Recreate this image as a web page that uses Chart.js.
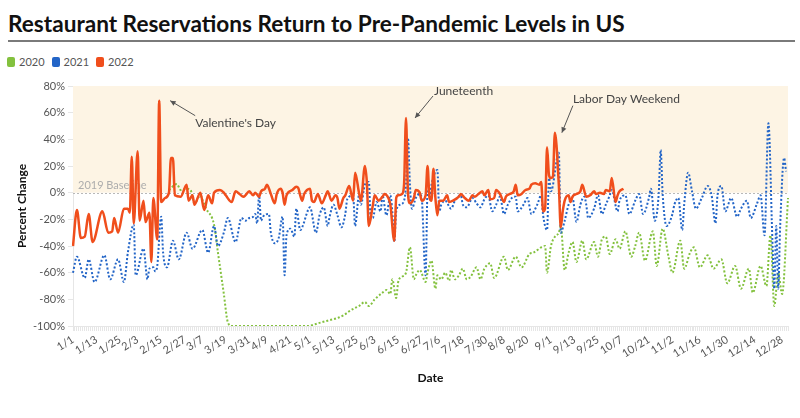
<!DOCTYPE html>
<html>
<head>
<meta charset="utf-8">
<script src="https://cdn.jsdelivr.net/npm/chart.js@4.4.0/dist/chart.umd.min.js"></script>
<style>
    html, body { margin: 0; padding: 0; background: #fff; }
    body { width: 800px; height: 418px; position: relative; overflow: hidden; font-family: Lato, "Noto Sans", sans-serif; }
    #titulo { position: absolute; left: 8px; top: 11px; font-size: 22.6px; font-weight: 700; color: #111; line-height: 26px; white-space: nowrap; }
    #regua { position: absolute; left: 8px; top: 40px; width: 787px; height: 2px; background: #7a7a7a; }
    #legenda { position: absolute; left: 7px; top: 55px; font-size: 11px; color: #555; display: flex; line-height: 13px; }
    .item { display: flex; align-items: center; margin-right: 7px; }
    .cor { width: 8px; height: 10px; border-radius: 2px; margin-right: 4px; }
    #grafico { position: absolute; left: 0; top: 70px; }
</style>
</head>
<body>
<div id="titulo">Restaurant Reservations Return to Pre-Pandemic Levels in US</div>
<div id="regua"></div>
<div id="legenda"></div>
<canvas id="grafico" width="800" height="320"></canvas>
<script>
// categorias: um rótulo por dia (ano bissexto, como 2020)
const diasPorMes = [31, 29, 31, 30, 31, 30, 31, 31, 30, 31, 30, 31];
const dias = [];
diasPorMes.forEach((n, m) => {
    for (let d = 1; d <= n; d++) dias.push(`${m + 1}/${d}`);
});

const tickLabels = ["1/1", "1/13", "1/25", "2/3", "2/15", "2/27", "3/7", "3/19", "3/31", "4/9", "4/21", "5/1",
    "5/13", "5/25", "6/3", "6/15", "6/27", "7/6", "7/18", "7/30", "8/8", "8/20", "9/1", "9/13", "9/25",
    "10/7", "10/21", "11/2", "11/16", "11/30", "12/14", "12/28"];

const seriesNames = ["2020", "2021", "2022"];
const seriesColors = ["#83c13e", "#2365c7", "#f04e1c"];

// 2020 (verde)
const dates2020 = [
    "2/19", "2/23", "2/25", "2/28",
    "3/1", "3/3", "3/6", "3/7", "3/9", "3/13", "3/15", "3/18", "3/20", "3/22",
    "4/30",
    "5/5", "5/10", "5/15", "5/18", "5/22", "5/26", "5/29", "5/31",
    "6/3", "6/7", "6/9", "6/11", "6/12", "6/14", "6/15", "6/17", "6/19", "6/21", "6/23", "6/24", "6/26", "6/29", "6/30",
    "7/2", "7/4", "7/5", "7/7", "7/9", "7/11", "7/12", "7/14", "7/16", "7/18", "7/20", "7/22", "7/25", "7/27", "7/29",
    "8/1", "8/3", "8/8", "8/10", "8/14", "8/17", "8/21", "8/23", "8/26", "8/27", "8/29", "8/30",
    "9/1", "9/3", "9/5", "9/6", "9/8", "9/10", "9/12", "9/14", "9/17", "9/19", "9/23", "9/25", "9/27", "9/29",
    "10/1", "10/4", "10/6", "10/9", "10/12", "10/14", "10/16", "10/19", "10/23", "10/25", "10/28", "10/31",
    "11/2", "11/6", "11/8", "11/11", "11/13", "11/16", "11/20", "11/23", "11/27", "11/30",
    "12/4", "12/7", "12/11", "12/13", "12/17", "12/20", "12/22", "12/24", "12/26", "12/28", "12/31"
];
const values2020 = [
    2, 6.5, 2, 3,
    2, -8, -2, -5, -12, -24, -45, -76, -97, -100,
    -100,
    -98, -96, -94, -92, -88, -85, -82, -85,
    -80, -75, -73, -76, -65, -79, -67, -63, -60, -41, -65, -62, -58, -67, -60,
    -51, -72, -62, -65, -60, -66, -58, -65, -62, -57, -65, -63, -56, -65, -57,
    -53, -64, -48, -58, -48, -56, -46, -45, -42, -41, -40, -60,
    -40, -33, -30, -25, -58, -45, -37, -52, -36, -50, -37, -48, -35, -33,
    -46, -35, -42, -29, -48, -40, -30, -51, -29, -55, -27, -48,
    -60, -36, -57, -45, -41, -56, -47, -57, -50, -68,
    -55, -72, -57, -75, -55, -70, -32, -85, -60, -76, -4
];

// 2021 (azul)
const dates2021 = [
    "1/1", "1/3", "1/7", "1/9", "1/12", "1/17", "1/20", "1/24", "1/27", "1/29",
    "2/1", "2/2", "2/6", "2/8", "2/9", "2/11", "2/12", "2/13", "2/15", "2/16", "2/18", "2/21", "2/24", "2/28",
    "3/2", "3/7", "3/10", "3/13", "3/15", "3/18", "3/20", "3/24", "3/27", "3/29", "3/31",
    "4/2", "4/3", "4/4", "4/5", "4/6", "4/7", "4/10", "4/11", "4/13", "4/15", "4/17", "4/18", "4/19", "4/21", "4/23", "4/24", "4/26", "4/28", "4/29",
    "5/1", "5/4", "5/6", "5/8", "5/10", "5/11", "5/13", "5/15", "5/17", "5/19", "5/20", "5/23", "5/24", "5/26", "5/27", "5/29", "5/31",
    "6/1", "6/2", "6/4", "6/6", "6/7", "6/9", "6/11", "6/12", "6/13", "6/14", "6/16", "6/18", "6/19", "6/20", "6/21", "6/22", "6/24", "6/26", "6/27", "6/29", "6/30",
    "7/1", "7/2", "7/5", "7/6", "7/7", "7/9", "7/12", "7/14", "7/17", "7/18", "7/20", "7/23", "7/25", "7/27", "7/29", "7/31",
    "8/2", "8/4", "8/6", "8/8", "8/10", "8/12", "8/14", "8/15", "8/18", "8/20", "8/22", "8/25", "8/27", "8/28", "8/30", "8/31",
    "9/1", "9/5", "9/6", "9/8", "9/10", "9/12", "9/14", "9/16", "9/18", "9/19", "9/20", "9/23", "9/25", "9/27", "9/29",
    "10/1", "10/2", "10/5", "10/6", "10/9", "10/11", "10/14", "10/16", "10/18", "10/21", "10/22", "10/24", "10/26", "10/27", "10/28", "10/30",
    "11/2", "11/3", "11/5", "11/7", "11/8", "11/10", "11/12", "11/14", "11/17", "11/20", "11/22", "11/24", "11/25", "11/27", "11/29",
    "12/2", "12/5", "12/7", "12/10", "12/12", "12/15", "12/17", "12/19", "12/21", "12/23", "12/24", "12/25", "12/26", "12/27", "12/29", "12/30"
];
const values2021 = [
    -60, -48, -64, -50, -67, -47, -65, -50, -67, -45,
    -24, -62, -42, -65, -57, -56, -59, -55, -18, -45, -56, -36, -50, -30,
    -42, -28, -45, -25, -40, -30, -19, -37, -19, -21, -19,
    -18, -16, -23, -2, -21, -18, -16, -30, -38, -34, -18, -62, -32, -27, -33, -12, -28, -22, -17,
    -11, -30, -16, -11, -25, -18, -9, -17, -26, -16, -5, -2, -25, -2, -9, 6, 8,
    -19, -19, -7, -14, -2, -17, -2, -14, -37, -14, -9, -6, 6, 41, 6, -12, -4, -1, -4, -62, 1,
    -4, 6, 17, -14, -9, -6, -12, -6, -2, -9, -11, -4, -8, -11, -5, -2,
    -14, -9, -3, -16, -9, -4, -3, -14, -9, -4, -16, -9, -2, -17, -28, 11,
    1, 30, -30, -21, -9, -4, -22, -9, -3, -9, -19, -12, -2, -16, -9,
    -2, 2, -14, -6, -2, -16, -6, -1, -16, -4, 3, -21, -1, 32, -1, -25,
    -16, -9, -4, -28, -9, 15, 1, -12, -4, 5, -2, -23, -2, 5, -14,
    -4, -18, -12, -6, -19, -9, -2, -32, 52, -34, -72, -25, -72, -25, 26, 16
];

// 2022 (laranja)
const dates2022 = [
    "1/1", "1/3", "1/5", "1/7", "1/9", "1/11", "1/16", "1/19", "1/21", "1/22", "1/24", "1/27", "1/29", "1/30", "1/31",
    "2/1", "2/3", "2/4", "2/6", "2/7", "2/9", "2/10", "2/11", "2/13", "2/14", "2/15", "2/17", "2/19", "2/20", "2/21", "2/22", "2/25", "2/28", "2/29",
    "3/2", "3/3", "3/6", "3/8", "3/10", "3/12", "3/13", "3/16", "3/18", "3/19", "3/22", "3/24", "3/26", "3/28", "3/29", "3/31",
    "4/2", "4/3", "4/5", "4/6", "4/8", "4/9", "4/11", "4/13", "4/14", "4/16", "4/17", "4/18", "4/19", "4/22", "4/24", "4/25", "4/26", "4/27", "4/28",
    "5/1", "5/2", "5/3", "5/5", "5/7", "5/9", "5/10", "5/12", "5/14", "5/15", "5/16", "5/18", "5/19", "5/21", "5/23", "5/24", "5/26", "5/27", "5/29", "5/30", "5/31",
    "6/2", "6/3", "6/5", "6/7", "6/8", "6/10", "6/11", "6/13", "6/14", "6/15", "6/17", "6/18", "6/19", "6/20", "6/21", "6/23", "6/24", "6/26", "6/27", "6/29", "6/30",
    "7/1", "7/2", "7/3", "7/4", "7/5", "7/6", "7/8", "7/10", "7/11", "7/13", "7/16", "7/17", "7/19", "7/21", "7/23", "7/24", "7/26", "7/28", "7/29", "7/31",
    "8/1", "8/3", "8/4", "8/6", "8/8", "8/9", "8/11", "8/13", "8/14", "8/15", "8/17", "8/19", "8/21", "8/22", "8/24", "8/26", "8/27", "8/28", "8/29", "8/30", "8/31",
    "9/1", "9/2", "9/3", "9/5", "9/6", "9/7", "9/8", "9/10", "9/11", "9/12", "9/14", "9/16", "9/17", "9/19", "9/21", "9/23", "9/24", "9/26", "9/28", "9/29",
    "10/1", "10/2", "10/4", "10/5", "10/6", "10/8"
];
const values2022 = [
    -40, -13, -34, -33, -16, -37, -14, -30, -29, -19, -30, -12, -12, -15, 27,
    -23, 31, -21, -6, -22, -15, -52, -4, -35, 69, -7, -4, 0, 26, 26, -2, -3, 6, -6,
    -2, -9, 0, -13, -2, -8, 0, 2, 0, -2, -7, 1, -1, -3, -2, 1,
    -2, 0, -3, 1, 3, 6, -1, -8, -1, 3, 0, -9, -2, 2, 4.5, 3.5, -2, -6, -1,
    3, -6, -7, -1, -8, -2, 1, -6, -2, -4, -12, -4, -2, 5, -6, 15, 0, -6, 20, 8, -25,
    -10, -2, -6, -3, -1, -4, -9, -36, -4, -2, -1, 6, 56, 0, -8, -4, 2, 0, -6, -2, 20,
    -4, -6, 18, -4, -17, -6, -6, -2, -7, -6, -3, -1, -4, -6, -2, -3, -1, 1, -2, 2,
    -5, -4, 2, -1, -7, -3, -1, 1, 6, -2, -1, 2, 3, 6, 7, 6, 8, -14, -12, 34, 13,
    11, 12, 45, 6, -26, -14, -6, -2, -7, -3, -1, 1, 6, -3, -2, 1, -1, 0, -1, 2,
    1, 11, -7, -2, 1, 3
];

const yTicks = [-100, -80, -60, -40, -20, 0, 20, 40, 60, 80];

// notas com seta: ponto do pico + deslocamentos em pixels
const annotations = [
    { date: "2/14", value: 69, text: "Valentine's Day", arrow: [11, 0, 36, 15], label: [36, 22] },
    { date: "6/19", value: 56, text: "Juneteenth", arrow: [9, 0, 27, -22], label: [28, -27] },
    { date: "9/3", value: 45, text: "Labor Day Weekend", arrow: [7, 0, 18, -27], label: [18, -34] }
];

function pontos(datas, valores) {
    return datas.map((d, i) => ({ x: d, y: valores[i] }));
}

// legenda em HTML
const legenda = document.getElementById("legenda");
legenda.innerHTML = seriesNames.map((n, i) => `
    <div class="item"><span class="cor" style="background:${seriesColors[i]}"></span>${n}</div>
`).join("");

const fundoPlugin = {
    id: "fundo",
    beforeDatasetsDraw(chart) {
        const { ctx, chartArea: area, scales: { y } } = chart;
        const yTop = y.getPixelForValue(80);
        const yZero = y.getPixelForValue(0);
        ctx.save();
        ctx.fillStyle = "#fdf4e4";
        ctx.fillRect(area.left, yTop, area.right - area.left, yZero - yTop);
        ctx.strokeStyle = "#b8b8b8";
        ctx.lineWidth = 1;
        ctx.setLineDash([2, 2]);
        ctx.beginPath();
        ctx.moveTo(area.left, Math.round(yZero) + 0.5);
        ctx.lineTo(area.right, Math.round(yZero) + 0.5);
        ctx.stroke();
        ctx.setLineDash([]);
        ctx.fillStyle = "#adadad";
        ctx.font = "11px Lato";
        ctx.textBaseline = "middle";
        ctx.fillText("2019 Baseline", area.left + 5, yZero - 7);
        ctx.restore();
    }
};

const notasPlugin = {
    id: "notas",
    afterDatasetsDraw(chart) {
        const { ctx, scales: { x, y } } = chart;
        ctx.save();
        annotations.forEach(a => {
            const px = x.getPixelForValue(dias.indexOf(a.date));
            const py = y.getPixelForValue(a.value);
            const hx = px + a.arrow[0], hy = py + a.arrow[1];
            const tx = px + a.arrow[2], ty = py + a.arrow[3];
            ctx.strokeStyle = "#555";
            ctx.fillStyle = "#555";
            ctx.lineWidth = 1;
            ctx.beginPath();
            ctx.moveTo(tx, ty);
            ctx.lineTo(hx, hy);
            ctx.stroke();
            const ang = Math.atan2(hy - ty, hx - tx);
            ctx.beginPath();
            ctx.moveTo(hx, hy);
            ctx.lineTo(hx - 6 * Math.cos(ang - 0.45), hy - 6 * Math.sin(ang - 0.45));
            ctx.lineTo(hx - 6 * Math.cos(ang + 0.45), hy - 6 * Math.sin(ang + 0.45));
            ctx.closePath();
            ctx.fill();
            ctx.fillStyle = "#444";
            ctx.font = "12px Lato";
            ctx.textBaseline = "middle";
            ctx.fillText(a.text, px + a.label[0], py + a.label[1]);
        });
        ctx.restore();
    }
};

const grade = { display: true, drawOnChartArea: false, drawTicks: true, tickLength: 5, color: "#e6e6e6" };

new Chart(document.getElementById("grafico"), {
    type: "line",
    data: {
        labels: dias,
        datasets: [
            { label: seriesNames[0], data: pontos(dates2020, values2020), borderColor: seriesColors[0], borderWidth: 2, borderDash: [2, 2], order: 2 },
            { label: seriesNames[1], data: pontos(dates2021, values2021), borderColor: seriesColors[1], borderWidth: 2, borderDash: [2, 2], order: 1 },
            { label: seriesNames[2], data: pontos(dates2022, values2022), borderColor: seriesColors[2], borderWidth: 2.5, order: 0 }
        ]
    },
    options: {
        responsive: false,
        animation: false,
        layout: { padding: { top: 16, right: 12, left: 0, bottom: 0 } },
        elements: {
            point: { radius: 0 },
            line: { cubicInterpolationMode: "monotone", fill: false }
        },
        plugins: { legend: { display: false }, tooltip: { enabled: false } },
        scales: {
            x: {
                type: "category",
                grid: grade,
                border: { display: true, color: "#e6e6e6" },
                ticks: {
                    autoSkip: false,
                    minRotation: 32,
                    maxRotation: 32,
                    padding: 2,
                    color: "#555",
                    font: { family: "Lato", size: 11 },
                    callback: function (v) {
                        const l = this.getLabelForValue(v);
                        return tickLabels.includes(l) ? l : "";
                    }
                },
                title: { display: true, text: "Date", color: "#111", font: { family: "Lato", size: 12, weight: "bold" }, padding: { top: 0, bottom: 5 } },
                afterFit: s => { s.height = 64; }
            },
            y: {
                min: yTicks[0],
                max: yTicks[yTicks.length - 1],
                grid: grade,
                border: { display: true, color: "#e6e6e6" },
                afterBuildTicks: s => { s.ticks = yTicks.map(v => ({ value: v })); },
                ticks: {
                    padding: 3,
                    color: "#555",
                    font: { family: "Lato", size: 11 },
                    callback: v => `${v}%`
                },
                title: { display: true, text: "Percent Change", color: "#111", font: { family: "Lato", size: 12, weight: "bold" }, padding: { top: 15, bottom: 0 } },
                afterFit: s => { s.width = 73; }
            }
        }
    },
    plugins: [fundoPlugin, notasPlugin]
});
</script>
</body>
</html>
